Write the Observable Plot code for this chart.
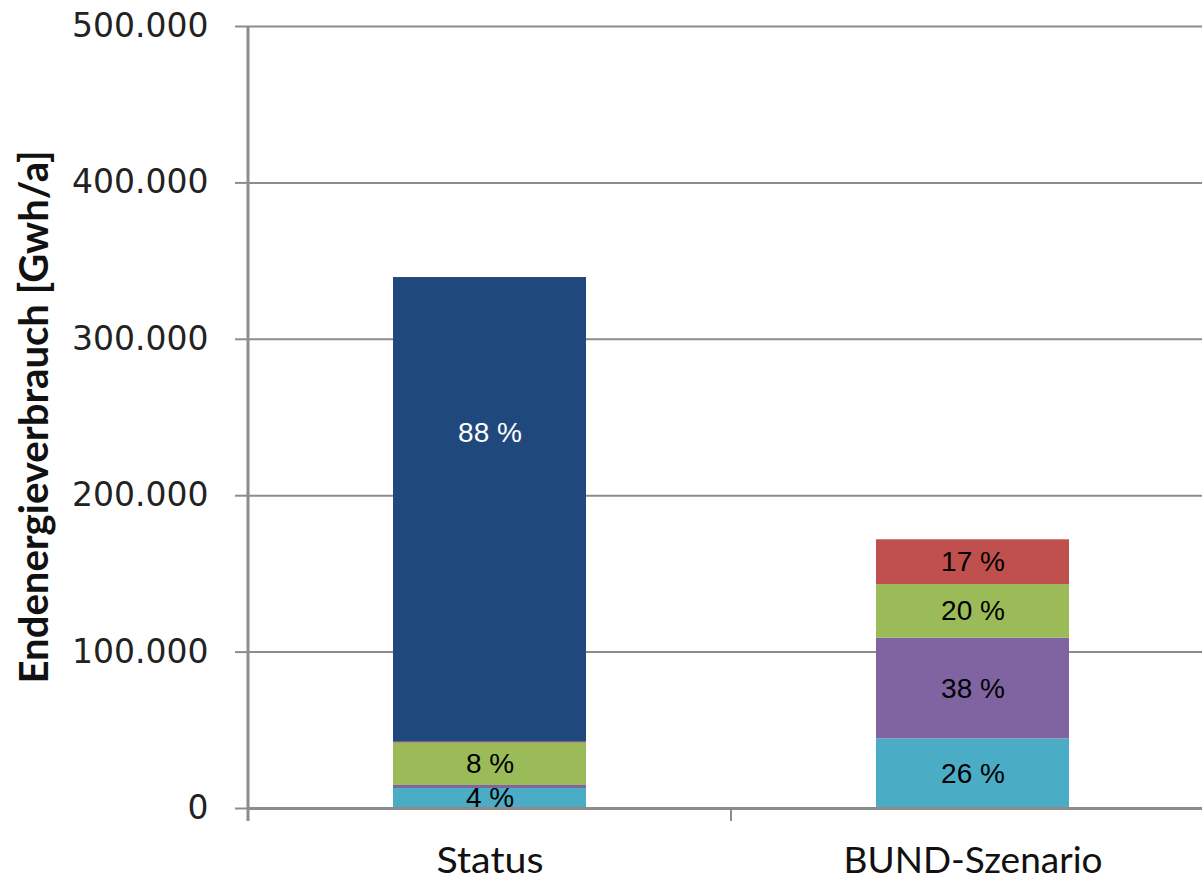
<!DOCTYPE html>
<html>
<head>
<meta charset="utf-8">
<script src="https://cdn.jsdelivr.net/npm/d3@7"></script>
<script src="https://cdn.jsdelivr.net/npm/@observablehq/plot@0.6"></script>
<style>
  html, body { margin: 0; padding: 0; background: #fff; }
  #chart { width: 1202px; height: 880px; }
</style>
</head>
<body>
<div id="chart"></div>
<script>
// ---- data ----
const categories = ["Status", "BUND-Szenario"];
const segments = ["Segment 1", "Segment 2", "Segment 3", "Segment 4", "Segment 5"];
const segmentColors = ["#4BACC6", "#8064A2", "#9BBB59", "#C0504D", "#1F497D"];
const statusValues = [12800, 1900, 27100, 600, 297100];
const bundValues = [44500, 64400, 34300, 28600, 0];
const statusLabels = ["4 %", "", "8 %", "", "88 %"];
const bundLabels = ["26 %", "38 %", "20 %", "17 %", ""];
const yTicks = [0, 100000, 200000, 300000, 400000, 500000];
const yLabel = "Endenergieverbrauch [Gwh/a]";

// ---- table ----
const seriesValues = [statusValues, bundValues];
const seriesLabels = [statusLabels, bundLabels];
const rows = [];
categories.forEach((cat, ci) => {
  let acc = 0;
  segments.forEach((seg, si) => {
    const v = seriesValues[ci][si];
    rows.push({category: cat, segment: seg, value: v, label: seriesLabels[ci][si],
               mid: acc + v / 2, big: si === 4});
    acc += v;
  });
});
const labelRows = rows.filter(d => d.label !== "");

const deLocale = d3.formatLocale({decimal: ",", thousands: ".", grouping: [3], currency: ["", "€"]});
const fmt = deLocale.format(",");
const gray = "#8c8c8c";

const chart = Plot.plot({
  width: 1202,
  height: 880,
  marginLeft: 248,
  marginRight: 0,
  marginTop: 26,
  marginBottom: 72,
  style: {background: "#fff", overflow: "visible"},
  x: {domain: categories, range: [248, 1214], paddingInner: 0.6, paddingOuter: 0.3},
  y: {domain: [0, 500000]},
  color: {domain: segments, range: segmentColors},
  marks: [
    Plot.gridY(yTicks, {stroke: gray, strokeOpacity: 1, strokeWidth: 2}),
    Plot.barY(rows, Plot.stackY({x: "category", y: "value", z: "segment", fill: "segment", order: null})),
    Plot.ruleY([0], {stroke: gray, strokeWidth: 3}),
    Plot.text(labelRows.filter(d => !d.big), {x: "category", y: "mid", text: "label", dy: 0,
      fill: "#000", fontSize: 28, fontFamily: "Liberation Sans, Arial, sans-serif"}),
    Plot.text(labelRows.filter(d => d.big), {x: "category", y: "mid", text: "label", dy: -77,
      fill: "#fff", fontSize: 28, fontFamily: "Liberation Sans, Arial, sans-serif"}),
    Plot.axisY({ticks: yTicks, tickFormat: fmt, tickSize: 13, tickPadding: 27, label: null,
      stroke: gray, strokeWidth: 2, fontSize: 33, fontFamily: "DejaVu Sans, Verdana, sans-serif"}),
    Plot.axisX({tickSize: 0, tickPadding: 38, label: null, fontSize: 37, fontFamily: "Lato, sans-serif"})
  ]
});

document.getElementById("chart").appendChild(chart);

// ---- post-render styling ----
const svg = d3.select(chart);
svg.selectAll("g[aria-label='y-axis tick label'] text").attr("fill", "#222");
const xLabelWidths = {"Status": 107, "BUND-Szenario": 259};
svg.selectAll("g[aria-label='x-axis tick label'] text")
  .attr("fill", "#111")
  .each(function() {
    const t = this.textContent;
    if (xLabelWidths[t]) d3.select(this).attr("textLength", xLabelWidths[t]).attr("lengthAdjust", "spacingAndGlyphs");
  });

// category boundary ticks and y-axis line via scales
const xs = chart.scale("x");
const ys = chart.scale("y");
const bw = xs.bandwidth;
const step = xs.step || bw / (1 - 0.6);
const boundaries = categories.map(c => xs.apply(c) - (step - bw) / 2);
boundaries.push(boundaries[boundaries.length - 1] + step);
const y0 = ys.apply(0);
const yTop = ys.apply(500000);
const g = svg.append("g");
g.selectAll("line.bt").data(boundaries).join("line")
  .attr("x1", d => d).attr("x2", d => d)
  .attr("y1", y0).attr("y2", y0 + 13)
  .attr("stroke", gray).attr("stroke-width", 2);
g.append("line")
  .attr("x1", boundaries[0]).attr("x2", boundaries[0])
  .attr("y1", yTop).attr("y2", y0 + 13)
  .attr("stroke", gray).attr("stroke-width", 3);

// y-axis title
svg.append("text")
  .attr("transform", `translate(48, ${(y0 + yTop) / 2}) rotate(-90)`)
  .attr("text-anchor", "middle")
  .attr("font-family", "Lato, sans-serif")
  .attr("font-weight", "bold")
  .attr("font-size", 41)
  .attr("fill", "#111")
  .attr("textLength", 533)
  .attr("lengthAdjust", "spacingAndGlyphs")
  .text(yLabel);
</script>
</body>
</html>
